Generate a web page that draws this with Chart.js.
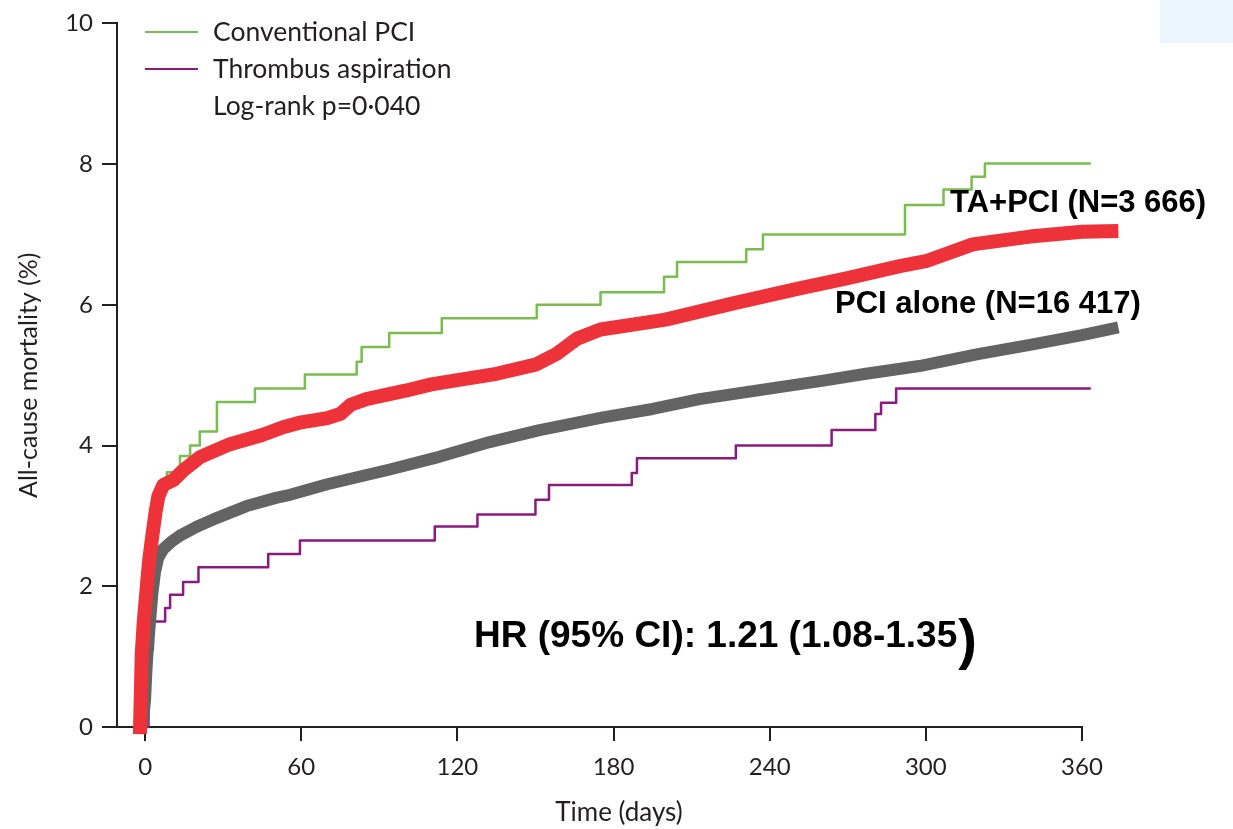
<!DOCTYPE html>
<html>
<head>
<meta charset="utf-8">
<script src="https://cdn.jsdelivr.net/npm/chart.js@4"></script>
<style>
  html, body { margin: 0; padding: 0; background: #fff; }
  #wrap { width: 1233px; height: 829px; }
</style>
</head>
<body>
<div id="wrap"><canvas id="km" width="1233" height="829"></canvas></div>
<script>
// axis ticks
const xTicks = [0, 60, 120, 180, 240, 300, 360];
const yTicks = [0, 2, 4, 6, 8, 10];

// Conventional PCI (green step curve)
const convDays = [-1, 0, 0.5, 1, 2, 3, 4, 5, 6, 8.4, 13.4, 17.3, 21, 27.6, 42.2, 61.4, 81.3, 83.2, 93.8, 114, 150.5, 175, 199.4, 204.4, 231, 237.4, 292, 306.8, 317.6, 322.7, 363.4];
const convVals = [0, 0.6, 1.0, 1.5, 2.2, 2.7, 3.0, 3.2, 3.4, 3.62, 3.85, 4.0, 4.2, 4.62, 4.81, 5.01, 5.19, 5.4, 5.6, 5.81, 6.0, 6.18, 6.4, 6.61, 6.79, 7.0, 7.42, 7.64, 7.82, 8.01, 8.01];

// Thrombus aspiration (purple step curve)
const aspDays = [0, 1.3, 2.2, 3.0, 7.7, 9.6, 14.6, 20.5, 47.3, 59.5, 111.3, 127.7, 150, 155.2, 187, 189, 227, 263.8, 280.6, 282.8, 288.6, 363.4];
const aspVals = [0, 0.9, 1.1, 1.5, 1.69, 1.88, 2.06, 2.27, 2.46, 2.65, 2.85, 3.02, 3.23, 3.44, 3.61, 3.82, 4.0, 4.22, 4.45, 4.61, 4.81, 4.81];

// PCI alone (thick grey curve)
const pciDays = [-1, 0, 0.5, 1, 1.9, 2.8, 3.8, 5, 7, 10, 13.4, 20, 26.2, 39, 50.6, 55.7, 70, 94, 113, 132.4, 151.6, 176, 195, 213, 243.8, 260, 277, 297.5, 320, 340, 360, 374];
const pciVals = [0, 0.4, 0.8, 1.1, 1.5, 1.9, 2.2, 2.4, 2.53, 2.63, 2.72, 2.85, 2.95, 3.14, 3.26, 3.3, 3.45, 3.66, 3.84, 4.05, 4.22, 4.4, 4.52, 4.66, 4.83, 4.92, 5.02, 5.13, 5.3, 5.43, 5.57, 5.68];

// TA+PCI (thick red curve)
const taDays = [-2, -1.3, -0.5, 0.6, 1.5, 2.6, 4, 5.1, 7, 10.9, 14.7, 21.3, 32.6, 45, 53, 60, 70, 75, 79, 85, 100, 110, 120, 135, 150, 158, 166, 175, 200, 226, 251, 270, 290, 300, 318, 340, 360, 374];
const taVals = [-0.1, 1.04, 1.5, 1.97, 2.35, 2.67, 3.05, 3.28, 3.44, 3.51, 3.65, 3.84, 4.02, 4.15, 4.26, 4.33, 4.39, 4.45, 4.58, 4.66, 4.78, 4.87, 4.93, 5.02, 5.15, 5.3, 5.52, 5.65, 5.79, 6.02, 6.23, 6.38, 6.55, 6.62, 6.86, 6.97, 7.04, 7.05];

const legendNames = ['Conventional PCI', 'Thrombus aspiration'];
const legendNote = 'Log-rank p=0\u00b7040';

const INK = '#231f20';
const GREEN = '#78bd4e';
const PURPLE = '#8c1a7e';
const RED = '#ee3239';
const GREY = '#636363';

const pts = (xs, ys) => xs.map((x, i) => ({ x: x, y: ys[i] }));

const decor = {
  id: 'decor',
  beforeDraw(chart) {
    const ctx = chart.ctx;
    ctx.save();
    ctx.fillStyle = '#fff';
    ctx.fillRect(0, 0, chart.width, chart.height);
    ctx.fillStyle = '#eaf5fe';
    ctx.fillRect(1160, 0, 73, 43);
    ctx.restore();
  },
  beforeDatasetsDraw(chart) {
    const { ctx, chartArea, scales } = chart;
    const y0 = scales.y.getPixelForValue(0);
    ctx.save();
    ctx.strokeStyle = INK;
    ctx.lineWidth = 2;
    ctx.beginPath();
    ctx.moveTo(chartArea.left, y0);
    ctx.lineTo(scales.x.getPixelForValue(360) + 1, y0);
    ctx.stroke();
    ctx.restore();
  },
  afterDatasetsDraw(chart) {
    const ctx = chart.ctx;
    ctx.save();
    // legend
    const legendColors = [GREEN, PURPLE];
    ctx.font = '26.5px Lato';
    ctx.fillStyle = INK;
    ctx.textBaseline = 'alphabetic';
    [32, 69].forEach((ly, i) => {
      ctx.strokeStyle = legendColors[i];
      ctx.lineWidth = 2;
      ctx.beginPath();
      ctx.moveTo(145, ly);
      ctx.lineTo(198, ly);
      ctx.stroke();
      ctx.fillText(legendNames[i], 213, ly + 9);
    });
    ctx.fillText(legendNote, 213, 115);

    // annotations
    ctx.fillStyle = '#000';
    ctx.font = 'bold 31px "Liberation Sans", Arial';
    ctx.fillText('TA+PCI (N=3 666)', 950, 212);
    ctx.fillText('PCI alone (N=16 417)', 835, 313);
    ctx.font = 'bold 37px "Liberation Sans", Arial';
    const hr = 'HR (95% CI): 1.21 (1.08-1.35';
    ctx.fillText(hr, 474, 647);
    const w = ctx.measureText(hr).width;
    ctx.font = 'bold 56px "Liberation Sans", Arial';
    ctx.fillText(')', 474 + w + 1, 658);
    ctx.restore();
  }
};

const cfg = {
  type: 'line',
  data: {
    datasets: [
      { label: 'TA+PCI', data: pts(taDays, taVals), borderColor: RED, borderWidth: 14, order: 0 },
      { label: 'PCI alone', data: pts(pciDays, pciVals), borderColor: GREY, borderWidth: 12, order: 1 },
      { label: legendNames[1], data: pts(aspDays, aspVals), borderColor: PURPLE, borderWidth: 2.5, stepped: 'before', order: 2 },
      { label: legendNames[0], data: pts(convDays, convVals), borderColor: GREEN, borderWidth: 2.5, stepped: 'before', order: 3 },
    ],
  },
  options: {
    responsive: false,
    animation: false,
    events: [],
    clip: false,
    layout: { padding: { top: 15, right: 112, left: 0, bottom: 0 } },
    plugins: { legend: { display: false }, tooltip: { enabled: false } },
    elements: { point: { radius: 0 }, line: { tension: 0, borderJoinStyle: 'round' } },
    scales: {
      x: {
        type: 'linear',
        min: -10.8,
        max: 375,
        afterBuildTicks: (s) => { s.ticks = xTicks.map((v) => ({ value: v })); },
        afterFit: (s) => { s.height = 102; },
        grid: { drawOnChartArea: false, drawTicks: true, tickLength: 14, color: INK, lineWidth: 2 },
        border: { display: false },
        ticks: { color: INK, font: { family: 'Lato', size: 24 }, padding: 12, maxRotation: 0, autoSkip: false },
        title: { display: true, text: 'Time (days)', color: INK, font: { family: 'Lato', size: 26 }, padding: { top: 0, bottom: 1 } },
      },
      y: {
        min: 0,
        max: 10,
        afterBuildTicks: (s) => { s.ticks = yTicks.map((v) => ({ value: v })); },
        afterFit: (s) => { s.width = 117; },
        grid: { drawOnChartArea: false, drawTicks: true, tickLength: 15, color: INK, lineWidth: 2 },
        border: { display: true, color: INK, width: 2 },
        ticks: { color: INK, font: { family: 'Lato', size: 24 }, padding: 9 },
        title: { display: true, text: 'All-cause mortality (%)', color: INK, font: { family: 'Lato', size: 25 }, padding: { top: 14, bottom: 0 } },
      },
    },
  },
  plugins: [decor],
};

new Chart(document.getElementById('km').getContext('2d'), cfg);
</script>
</body>
</html>
